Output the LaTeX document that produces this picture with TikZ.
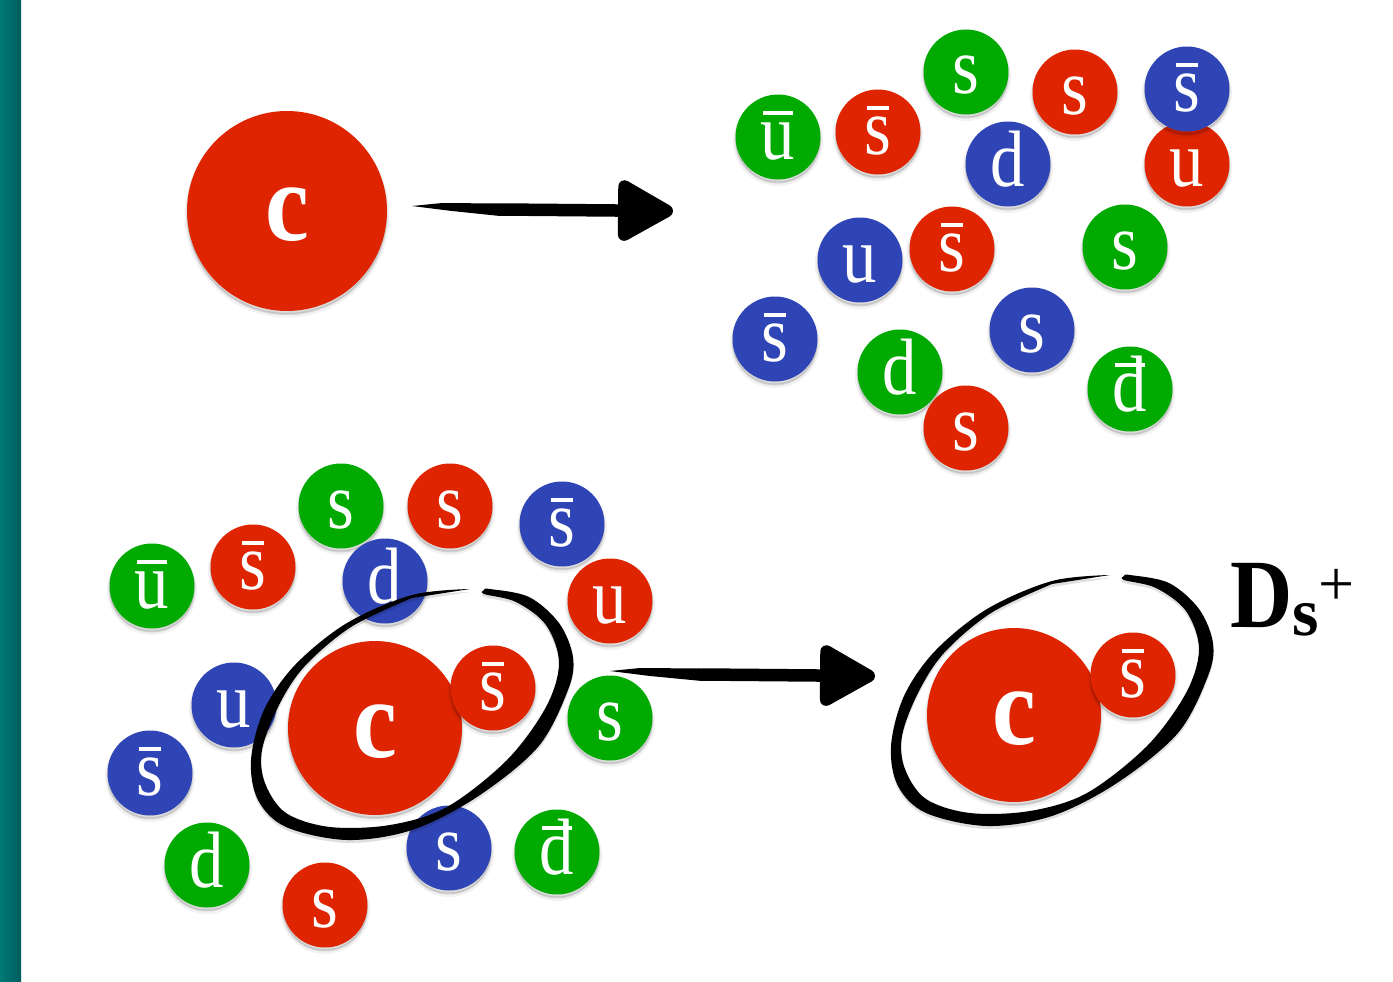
\documentclass[tikz,border=0pt]{standalone}
\usepackage{fontspec}
\setmainfont{Liberation Serif}
\usetikzlibrary{arrows.meta,calc}
\definecolor{qred}{RGB}{222,36,0}
\definecolor{qgreen}{RGB}{0,170,0}
\definecolor{qblue}{RGB}{47,69,181}
\definecolor{barlight}{RGB}{0,122,118}
\definecolor{bardark}{RGB}{0,92,92}
% Letter with a bar above it, as used for antiquarks
\newcommand{\antiq}[1]{\setbox0\hbox{#1}\rlap{\hspace{.03em}\raisebox{.545em}{\rule{\dimexpr\wd0-.06em\relax}{.055em}}}\box0}
% Soft shadow beneath a filled disc
\tikzset{
  softshadow/.style={
    preaction={draw=black,draw opacity=.05,line width=5pt,fill=black,fill opacity=.06,transform canvas={yshift=-4pt}},
    preaction={draw=black,draw opacity=.07,line width=2pt,fill=black,fill opacity=.08,transform canvas={yshift=-3pt}}},
  quarkdisc/.style={circle,inner sep=0pt,outer sep=0pt,minimum size=85pt,softshadow,text=white,
    text height=44pt,text depth=0pt,align=center,
    font=\fontsize{80}{80}\selectfont},
  heavydisc/.style={quarkdisc,text height=58pt,font=\fontsize{112}{112}\selectfont\bfseries},
  brushshaft/.style={line width=12.5pt,line cap=butt,-{Triangle[length=62pt,width=66pt,round]}},
  brushtail/.style={fill=black},
}
% name, colour, position, letter
\newcommand{\quark}[4]{\node[quarkdisc,fill=#2] (#1) at (#3) {\scalebox{.86}[1]{#4}};}
% The hand-brushed ring around a bound pair
\newcommand{\brushring}[1]{%
  \fill[black,fill opacity=.12,shift={(#1)},yshift=-3pt] plot[smooth,tension=.55] coordinates {\ringpts} -- cycle;
  \fill[black,shift={(#1)}] plot[smooth,tension=.55] coordinates {\ringpts} -- cycle;}
\newcommand{\ringpts}{(470,589) (412,595) (347,623) (295,665) (264,710) (251,760) (258,800) (286,827) (347,840) (412,830) (477,797) (538,747) (568,690) (573,657) (559,623) (529,597) (490,589) (484,590) (484,594) (516,602) (546,625) (559,663) (546,707) (507,760) (447,807) (390,825) (330,827) (286,813) (265,783) (262,750) (278,707) (304,667) (351,627) (412,598)}
\begin{document}
\begin{tikzpicture}[x=1pt,y=-1pt]
\useasboundingbox (0,0) rectangle (1393,982);
\shade[left color=barlight,right color=bardark,shading angle=90] (0,0) rectangle (21,982);

% Free quark soup and the lone charm quark
\node[heavydisc,fill=qred,minimum size=200pt] (cfree) at (287,211) {\scalebox{.88}[1]{c}};
\quark{ta}{qgreen}{778,137}{\antiq{u}}
\quark{tb}{qred}{878,132}{\antiq{s}}
\quark{tc}{qgreen}{966,72}{s}
\quark{td}{qred}{1075,92}{s}
\quark{tf}{qred}{1187,164}{u}
\quark{te}{qblue}{1187,89}{\antiq{s}}
\quark{tg}{qblue}{1008,164}{d}
\quark{th}{qblue}{860,260}{u}
\quark{ti}{qred}{952,249}{\antiq{s}}
\quark{tj}{qgreen}{1125,247}{s}
\quark{tk}{qblue}{775,339}{\antiq{s}}
\quark{tl}{qblue}{1032,330}{s}
\quark{tm}{qgreen}{900,372}{d}
\quark{tn}{qred}{966,428}{s}
\quark{to}{qgreen}{1130,389}{\antiq{d}}

% Upper arrow: tapering tail, then shaft and head
\coordinate (tailA) at (412,206);
\coordinate (midA) at (500,209.5);
\coordinate (tipA) at (673,211);
\fill[brushtail] (tailA) -- ($(tailA)+(30,-3)$) -- ($(midA)+(0,-6)$) -- ($(midA)+(0,6.5)$) -- ($(tailA)+(40,5)$) -- cycle;
\draw[brushshaft] (midA) -- (tipA);

% Quarks surrounding the charm quark
\quark{ba}{qgreen}{152,586}{\antiq{u}}
\quark{bb}{qred}{253,567}{\antiq{s}}
\quark{bc}{qgreen}{341,506}{s}
\quark{bd}{qred}{450,506}{s}
\quark{be}{qblue}{562,524}{\antiq{s}}
\quark{bf}{qred}{610,601}{u}
\quark{bg}{qblue}{385,581}{d}
\quark{bh}{qblue}{234,705}{u}
\quark{bi}{qblue}{150,773}{\antiq{s}}
\quark{bj}{qgreen}{207,865}{d}
\quark{bk}{qred}{325,905}{s}
\quark{bl}{qblue}{449,848}{s}
\quark{bm}{qgreen}{557,852}{\antiq{d}}
\quark{bn}{qgreen}{610,718}{s}
\node[heavydisc,fill=qred,minimum size=174pt] (cbound) at (375,728) {\scalebox{.88}[1]{c}};
\quark{bp}{qred}{493,688}{\antiq{s}}
\brushring{0,0}

% Lower arrow
\coordinate (tailB) at (610,671);
\coordinate (midB) at (702,674.5);
\coordinate (tipB) at (875,676);
\fill[brushtail] (tailB) -- ($(tailB)+(30,-3)$) -- ($(midB)+(0,-6)$) -- ($(midB)+(0,6.5)$) -- ($(tailB)+(40,5)$) -- cycle;
\draw[brushshaft] (midB) -- (tipB);

% The bound meson
\node[heavydisc,fill=qred,minimum size=174pt] (cmeson) at (1014,715) {\scalebox{.88}[1]{c}};
\quark{sbar}{qred}{1133,675}{\antiq{s}}
\brushring{640,-14}

% Meson label
\node[anchor=base west,inner sep=0pt,text=black] (dslabel) at (1230,627)
  {\scalebox{.88}[1]{\fontsize{98}{98}\selectfont\bfseries D}\raisebox{-8pt}{\fontsize{68}{68}\selectfont\bfseries s}\raisebox{22pt}{\fontsize{64}{64}\selectfont +}};
\end{tikzpicture}
\end{document}
